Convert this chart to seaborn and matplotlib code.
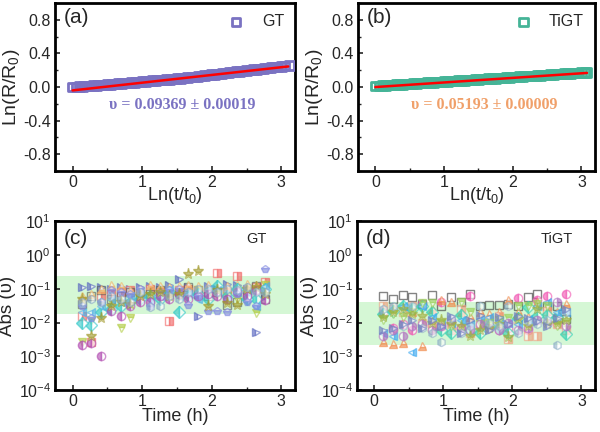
import numpy as np
import pandas as pd
import matplotlib
matplotlib.use("Agg")
import matplotlib.pyplot as plt
from matplotlib.ticker import MultipleLocator, LogLocator, NullLocator
import seaborn as sns

# ---------------- data ----------------
# (a) GT: Ln(R/R0) vs Ln(t/t0)
gt_x = [0.00, 0.05, 0.10, 0.15, 0.20, 0.25, 0.30, 0.35, 0.40, 0.45, 0.50, 0.55,
        0.60, 0.65, 0.70, 0.75, 0.80, 0.85, 0.90, 0.95, 1.00, 1.05, 1.10, 1.15,
        1.20, 1.25, 1.30, 1.35, 1.40, 1.45, 1.50, 1.55, 1.60, 1.65, 1.70, 1.75,
        1.80, 1.85, 1.90, 1.95, 2.00, 2.05, 2.10, 2.15, 2.20, 2.25, 2.30, 2.35,
        2.40, 2.45, 2.50, 2.55, 2.60, 2.65, 2.70, 2.75, 2.80, 2.85, 2.90, 2.95,
        3.00, 3.05, 3.12]
gt_y = [0.000, 0.002, 0.005, 0.008, 0.011, 0.014, 0.017, 0.020, 0.023, 0.026,
        0.030, 0.033, 0.036, 0.040, 0.043, 0.046, 0.050, 0.053, 0.057, 0.061,
        0.065, 0.068, 0.072, 0.075, 0.079, 0.082, 0.086, 0.090, 0.093, 0.097,
        0.101, 0.105, 0.109, 0.113, 0.118, 0.122, 0.127, 0.132, 0.137, 0.142,
        0.147, 0.152, 0.157, 0.162, 0.167, 0.172, 0.177, 0.182, 0.187, 0.192,
        0.197, 0.202, 0.207, 0.212, 0.217, 0.222, 0.227, 0.232, 0.237, 0.241,
        0.246, 0.250, 0.256]
gt_fit_x = [0.0, 3.10]
gt_fit_y = [-0.040, 0.245]

# (b) TiGT
tigt_x = [0.00, 0.05, 0.10, 0.15, 0.20, 0.25, 0.30, 0.35, 0.40, 0.45, 0.50, 0.55,
          0.60, 0.65, 0.70, 0.75, 0.80, 0.85, 0.90, 0.95, 1.00, 1.05, 1.10, 1.15,
          1.20, 1.25, 1.30, 1.35, 1.40, 1.45, 1.50, 1.55, 1.60, 1.65, 1.70, 1.75,
          1.80, 1.85, 1.90, 1.95, 2.00, 2.05, 2.10, 2.15, 2.20, 2.25, 2.30, 2.35,
          2.40, 2.45, 2.50, 2.55, 2.60, 2.65, 2.70, 2.75, 2.80, 2.85, 2.90, 2.95,
          3.00, 3.05, 3.08]
tigt_y = [0.012, 0.015, 0.017, 0.020, 0.022, 0.025, 0.028, 0.031, 0.033, 0.036,
          0.038, 0.041, 0.044, 0.046, 0.049, 0.052, 0.054, 0.057, 0.060, 0.062,
          0.065, 0.068, 0.070, 0.073, 0.076, 0.078, 0.081, 0.084, 0.086, 0.089,
          0.092, 0.094, 0.097, 0.099, 0.102, 0.105, 0.108, 0.110, 0.113, 0.115,
          0.118, 0.121, 0.124, 0.126, 0.129, 0.131, 0.134, 0.137, 0.140, 0.142,
          0.145, 0.147, 0.150, 0.153, 0.156, 0.158, 0.161, 0.163, 0.166, 0.169,
          0.171, 0.174, 0.175]
tigt_fit_x = [0.0, 3.08]
tigt_fit_y = [0.000, 0.168]

# (c)/(d) time columns (h)
time_h = [0.13, 0.27, 0.41, 0.55, 0.69, 0.83, 0.97, 1.11, 1.25, 1.39,
          1.53, 1.66, 1.80, 1.94, 2.08, 2.22, 2.36, 2.50, 2.64, 2.77]

gt_band = [0.0185, 0.24]
tigt_band = [0.0022, 0.041]

c_s1 = [0.11, 0.12, 0.11, 0.10, 0.11, 0.10, 0.11, 0.12, 0.11, 0.13, 0.20, 0.11, 0.016, 0.12, 0.10, 0.14, 0.13, 0.10, 0.0051, 0.06]
c_s2 = [0.016, 0.0027, 0.06, 0.07, 0.08, 0.09, 0.07, 0.10, 0.08, 0.011, 0.09, 0.10, 0.09, 0.08, 0.29, 0.08, 0.24, 0.09, 0.11, 0.16]
c_s3 = [0.035, 0.06, 0.09, 0.05, 0.06, 0.08, 0.06, 0.07, 0.09, 0.07, 0.08, 0.11, 0.07, 0.06, 0.08, 0.033, 0.04, 0.06, 0.12, 0.05]
c_s4 = [0.06, 0.07, 0.10, 0.13, 0.12, 0.09, 0.10, 0.13, 0.12, 0.11, 0.12, 0.13, 0.12, 0.13, 0.11, 0.12, 0.13, 0.14, 0.13, 0.14]
c_s5 = [0.0026, 0.012, 0.03, 0.04, 0.0067, 0.014, 0.05, 0.06, 0.05, 0.07, 0.06, 0.05, 0.09, 0.08, 0.07, 0.06, 0.05, 0.07, 0.019, 0.13]
c_s6 = [0.0095, 0.0085, 0.02, 0.025, 0.03, 0.04, 0.05, 0.06, 0.05, 0.08, 0.021, 0.06, 0.07, 0.05, 0.12, 0.06, 0.10, 0.05, 0.05, 0.10]
c_s7 = [0.02, 0.02, 0.03, 0.05, 0.04, 0.06, 0.07, 0.05, 0.06, 0.09, 0.06, 0.07, 0.05, 0.10, 0.09, 0.05, 0.08, 0.08, 0.03, 0.12]
c_s8 = [0.0022, 0.0025, 0.00099, 0.022, 0.016, 0.03, 0.04, 0.04, 0.06, 0.05, 0.07, 0.05, 0.06, 0.07, 0.06, 0.05, 0.08, 0.06, 0.09, 0.045]
c_s9 = [0.03, 0.014, 0.04, 0.09, 0.08, 0.07, 0.10, 0.03, 0.08, 0.09, 0.10, 0.034, 0.06, 0.022, 0.022, 0.02, 0.07, 0.04, 0.03, 0.39]
c_s10 = [0.05, 0.0039, 0.014, 0.03, 0.04, 0.035, 0.06, 0.07, 0.08, 0.06, 0.07, 0.28, 0.34, 0.031, 0.09, 0.037, 0.034, 0.10, 0.11, 0.07]
c_s11 = [0.04, 0.05, 0.04, 0.06, 0.05, 0.04, 0.08, 0.028, 0.03, 0.06, 0.05, 0.08, 0.10, 0.10, 0.08, 0.10, 0.09, 0.11, 0.08, 0.08]

d_s1 = [0.061, 0.049, 0.064, 0.058, 0.035, 0.064, 0.031, 0.058, 0.041, 0.070, 0.030, 0.032, 0.034, 0.035, 0.030, 0.058, 0.069, 0.031, 0.031, 0.0127]
d_s2 = [0.020, 0.007, 0.009, 0.006, 0.035, 0.008, 0.040, 0.010, 0.007, 0.060, 0.008, 0.009, 0.006, 0.007, 0.052, 0.006, 0.045, 0.060, 0.009, 0.068]
d_s3 = [0.0026, 0.0023, 0.0025, 0.020, 0.0020, 0.025, 0.045, 0.040, 0.020, 0.015, 0.020, 0.018, 0.020, 0.045, 0.020, 0.015, 0.040, 0.030, 0.020, 0.035]
d_s4 = [0.030, 0.025, 0.020, 0.030, 0.010, 0.007, 0.008, 0.006, 0.025, 0.005, 0.010, 0.012, 0.016, 0.0032, 0.012, 0.004, 0.004, 0.022, 0.009, 0.006]
d_s5 = [0.018, 0.022, 0.030, 0.025, 0.030, 0.020, 0.006, 0.005, 0.017, 0.006, 0.005, 0.008, 0.007, 0.005, 0.014, 0.028, 0.016, 0.017, 0.015, 0.0045]
d_s6 = [0.005, 0.004, 0.030, 0.0013, 0.030, 0.015, 0.009, 0.010, 0.012, 0.009, 0.013, 0.015, 0.012, 0.010, 0.009, 0.013, 0.030, 0.040, 0.020, 0.020]
d_s7 = [0.012, 0.018, 0.015, 0.020, 0.038, 0.037, 0.010, 0.008, 0.040, 0.020, 0.009, 0.010, 0.012, 0.014, 0.030, 0.030, 0.035, 0.030, 0.008, 0.009]
d_s8 = [0.004, 0.006, 0.004, 0.008, 0.009, 0.006, 0.008, 0.012, 0.007, 0.006, 0.009, 0.007, 0.006, 0.010, 0.006, 0.007, 0.012, 0.010, 0.040, 0.008]
d_s9 = [0.015, 0.020, 0.025, 0.018, 0.016, 0.010, 0.012, 0.009, 0.008, 0.004, 0.006, 0.007, 0.009, 0.0038, 0.013, 0.008, 0.025, 0.009, 0.010, 0.012]
d_s10 = [0.025, 0.030, 0.008, 0.030, 0.007, 0.005, 0.0026, 0.014, 0.005, 0.008, 0.030, 0.010, 0.008, 0.030, 0.005, 0.011, 0.009, 0.012, 0.0022, 0.020]
d_s11 = [0.006, 0.007, 0.009, 0.012, 0.007, 0.012, 0.008, 0.016, 0.005, 0.012, 0.017, 0.006, 0.015, 0.009, 0.016, 0.014, 0.011, 0.008, 0.014, 0.025]

# ---------------- style ----------------
sns.set_style("white")
plt.rcParams["font.family"] = ["Liberation Sans", "DejaVu Sans"]
plt.rcParams["mathtext.fontset"] = "custom"
plt.rcParams["mathtext.rm"] = "Liberation Sans"
plt.rcParams["mathtext.it"] = "Liberation Sans"

PURPLE = "#7A72C2"
TEAL = "#45B497"
ORANGE = "#F0A06A"
SERIF = ["Liberation Serif", "DejaVu Serif"]

fig = plt.figure(figsize=(6.0, 4.32), dpi=100)
ax_a = fig.add_axes([0.092, 0.604, 0.400, 0.389])
ax_b = fig.add_axes([0.597, 0.604, 0.395, 0.389])
ax_c = fig.add_axes([0.092, 0.097, 0.400, 0.391])
ax_d = fig.add_axes([0.595, 0.097, 0.397, 0.391])


def style_axes(ax):
    for sp in ax.spines.values():
        sp.set_linewidth(2.0)
        sp.set_color("black")
    ax.tick_params(axis="both", which="major", direction="in", length=3.5,
                   width=1.2, labelsize=11.5, pad=3, top=False, right=False,
                   bottom=True, left=True)
    ax.tick_params(axis="both", which="minor", direction="in", length=2,
                   width=1.0, top=False, right=False, bottom=True, left=True)


def ln_panel(ax, x, y, fx, fy, color, label, letter, text, tcolor):
    sns.scatterplot(x=x, y=y, ax=ax, marker="s", s=38, color=color,
                    facecolor="none", edgecolor=color, linewidth=2.0,
                    label=label, zorder=3)
    sns.lineplot(x=fx, y=fy, ax=ax, color="#FF0000", linewidth=1.8,
                 zorder=4, legend=False)
    ax.set_xlim(-0.25, 3.2)
    ax.set_ylim(-1.0, 1.0)
    ax.xaxis.set_major_locator(MultipleLocator(1))
    ax.xaxis.set_minor_locator(MultipleLocator(0.5))
    ax.yaxis.set_minor_locator(MultipleLocator(0.2))
    ax.set_yticks([-0.8, -0.4, 0.0, 0.4, 0.8])
    ax.set_yticklabels(["-0.8", "-0.4", "0.0", "0.4", "0.8"])
    ax.set_xlabel(r"Ln(t/t$_0$)", fontsize=13, labelpad=-4)
    ax.set_ylabel(r"Ln(R/R$_0$)", fontsize=14, labelpad=1)
    style_axes(ax)
    ax.text(0.035, 0.915, letter, transform=ax.transAxes, fontsize=15,
            ha="left", va="center")
    ax.text(0.53, 0.395, text, transform=ax.transAxes, fontsize=11.5,
            fontweight="bold", family=SERIF, color=tcolor, ha="center",
            va="center")
    ax.legend(loc="upper right", frameon=False, fontsize=11.5,
              handletextpad=0.6, borderaxespad=0.3, markerscale=1.0)


ln_panel(ax_a, gt_x, gt_y, gt_fit_x, gt_fit_y, PURPLE, "GT", "(a)",
         "\u03c5 = 0.09369 \u00b1 0.00019", PURPLE)
ln_panel(ax_b, tigt_x, tigt_y, tigt_fit_x, tigt_fit_y, TEAL, "TiGT", "(b)",
         "\u03c5 = 0.05193 \u00b1 0.00009", ORANGE)

# marker specs: (values, marker, color, fillstyle)
c_specs = [
    (c_s1, ">", "#5A68C0", "left"),
    (c_s2, "s", "#F06060", "right"),
    (c_s3, "s", "#555555", "none"),
    (c_s4, "^", "#F0B060", "bottom"),
    (c_s5, "v", "#B0CC40", "top"),
    (c_s6, "D", "#30C8C8", "left"),
    (c_s7, "<", "#50B0E8", "right"),
    (c_s8, "o", "#B048B0", "left"),
    (c_s9, "p", "#8088E0", "bottom"),
    (c_s10, "*", "#A09828", "top"),
    (c_s11, "h", "#88A8C8", "left"),
]
d_specs = [
    (d_s1, "s", "#333333", "none"),
    (d_s2, "o", "#F050B0", "left"),
    (d_s3, "^", "#F08848", "bottom"),
    (d_s4, "s", "#F0A080", "right"),
    (d_s5, "D", "#30D0B0", "left"),
    (d_s6, "<", "#3AA8F0", "right"),
    (d_s7, "v", "#98D058", "top"),
    (d_s8, "o", "#B070C0", "right"),
    (d_s9, "*", "#A0B040", "top"),
    (d_s10, "h", "#90B0C8", "left"),
    (d_s11, ">", "#7080C0", "left"),
]


def abs_panel(ax, specs, band, letter, name):
    ax.set_yscale("log")
    ax.axhspan(band[0], band[1], color="#C8F5C8", alpha=0.75, lw=0, zorder=0)
    for vals, mk, col, fs in specs:
        ms = 8.0 if mk == "*" else 6.0
        sns.lineplot(x=time_h, y=vals, ax=ax, marker=mk, linestyle="",
                     color=col, markersize=ms, markeredgecolor=col,
                     markeredgewidth=1.0, fillstyle=fs,
                     markerfacecoloralt="white", alpha=0.6,
                     estimator=None, sort=False, legend=False, zorder=3)
    ax.set_xlim(-0.25, 3.2)
    ax.set_ylim(1e-4, 1e1)
    ax.xaxis.set_major_locator(MultipleLocator(1))
    ax.xaxis.set_minor_locator(MultipleLocator(0.5))
    ax.yaxis.set_major_locator(LogLocator(base=10, numticks=10))
    ax.yaxis.set_minor_locator(NullLocator())
    ax.set_xlabel("Time (h)", fontsize=13, labelpad=-1)
    ax.set_ylabel("Abs (\u03c5)", fontsize=13.5, labelpad=2)
    style_axes(ax)
    ax.text(0.035, 0.895, letter, transform=ax.transAxes, fontsize=15,
            ha="left", va="center")
    ax.text(0.84, 0.895, name, transform=ax.transAxes, fontsize=10.5,
            ha="center", va="center")


abs_panel(ax_c, c_specs, gt_band, "(c)", "GT")
abs_panel(ax_d, d_specs, tigt_band, "(d)", "TiGT")

fig.savefig("out.png", dpi=100)
